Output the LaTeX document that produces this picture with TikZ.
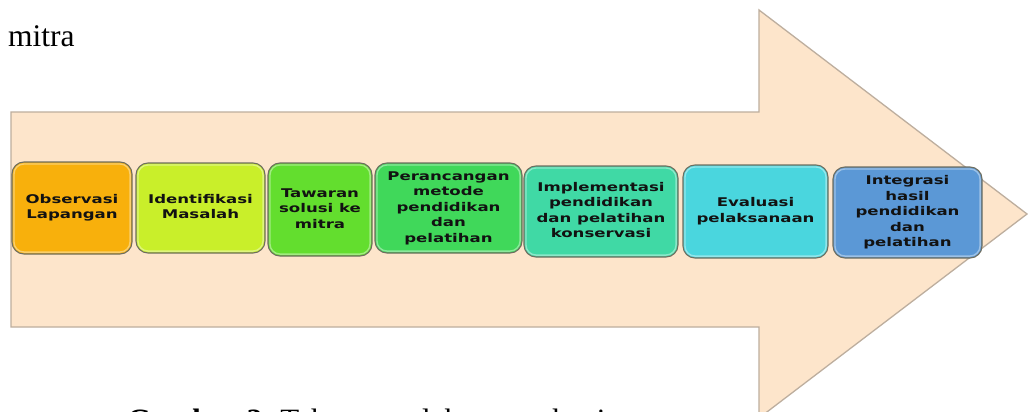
\documentclass[tikz,border=0pt]{standalone}
\usepackage{fontspec}
\usepackage{graphicx}
\setmainfont{Liberation Serif}
\newfontfamily\boxfont{DejaVu Sans}

\definecolor{arrowfill}{HTML}{FDE5CB}
\definecolor{arrowline}{HTML}{BDAE9E}
\definecolor{boxline}{HTML}{6E6E60}
\definecolor{boxtext}{HTML}{121212}
\definecolor{stageA}{HTML}{F8B00C}
\definecolor{stageB}{HTML}{C9EF2A}
\definecolor{stageC}{HTML}{63DE2E}
\definecolor{stageD}{HTML}{40D85A}
\definecolor{stageE}{HTML}{40D9A5}
\definecolor{stageF}{HTML}{4AD6DE}
\definecolor{stageG}{HTML}{5B98D6}

% wide, heavy labels inside the stage boxes
\newcommand\stagetext[1]{\scalebox{1.38}[1]{\begin{tabular}{@{}c@{}}#1\end{tabular}}}

\tikzset{
  arrowbody/.style={fill=arrowfill, draw=arrowline, line width=1.3pt, line join=miter},
  stage/.style={draw=boxline, line width=1.1pt, rounded corners=12pt, inner sep=0pt,
    font=\boxfont\bfseries\fontsize{12}{15.5}\selectfont, text=boxtext},
  gloss/.style={draw=white, draw opacity=.4, line width=1.4pt, rounded corners=10pt},
  plain/.style={anchor=base west, inner sep=0pt}
}

\begin{document}
\begin{tikzpicture}[x=1pt,y=-1pt]
\useasboundingbox (0,0) rectangle (1028,412);
\clip (0,0) rectangle (1028,412);
\fill[white] (0,0) rectangle (1028,412);

% the large block arrow behind the stages
\draw[arrowbody] (11,112) -- (759,112) -- (759,10) -- (1027,214) -- (759,418)
  -- (759,327) -- (11,327) -- cycle;

% running text above and caption below
\node[plain, font=\fontsize{31.5}{36}\selectfont] (mitra) at (8,47) {mitra};
\node[plain, font=\fontsize{31}{36}\selectfont] (caption) at (127,430)
  {\textbf{Gambar 3.} Tahapan pelaksanaan kegiatan};

% stages
\node[stage, fill=stageA, minimum width=120pt, minimum height=92pt] (s1) at (72,208)
  {\stagetext{Observasi\\Lapangan}};
\node[stage, fill=stageB, minimum width=129pt, minimum height=90pt] (s2) at (200.5,208)
  {\stagetext{Identifikasi\\Masalah}};
\node[stage, fill=stageC, minimum width=104pt, minimum height=93pt] (s3) at (320,209.5)
  {\stagetext{Tawaran\\solusi ke\\mitra}};
\node[stage, fill=stageD, minimum width=147pt, minimum height=90pt] (s4) at (448.5,208)
  {\stagetext{Perancangan\\metode\\pendidikan\\dan\\pelatihan}};
\node[stage, fill=stageE, minimum width=154pt, minimum height=91pt] (s5) at (601,211.5)
  {\stagetext{Implementasi\\pendidikan\\dan pelatihan\\konservasi}};
\node[stage, fill=stageF, minimum width=145pt, minimum height=93pt] (s6) at (755.5,211.5)
  {\stagetext{Evaluasi\\pelaksanaan}};
\node[stage, fill=stageG, minimum width=149pt, minimum height=91pt] (s7) at (907.5,212.5)
  {\stagetext{Integrasi\\hasil\\pendidikan\\dan\\pelatihan}};

% bevel highlight inside each box
\foreach \n in {s1,s2,s3,s4,s5,s6,s7}
  \draw[gloss] ([shift={(2.5,-2.5)}]\n.south west) rectangle ([shift={(-2.5,2.5)}]\n.north east);
\end{tikzpicture}
\end{document}
